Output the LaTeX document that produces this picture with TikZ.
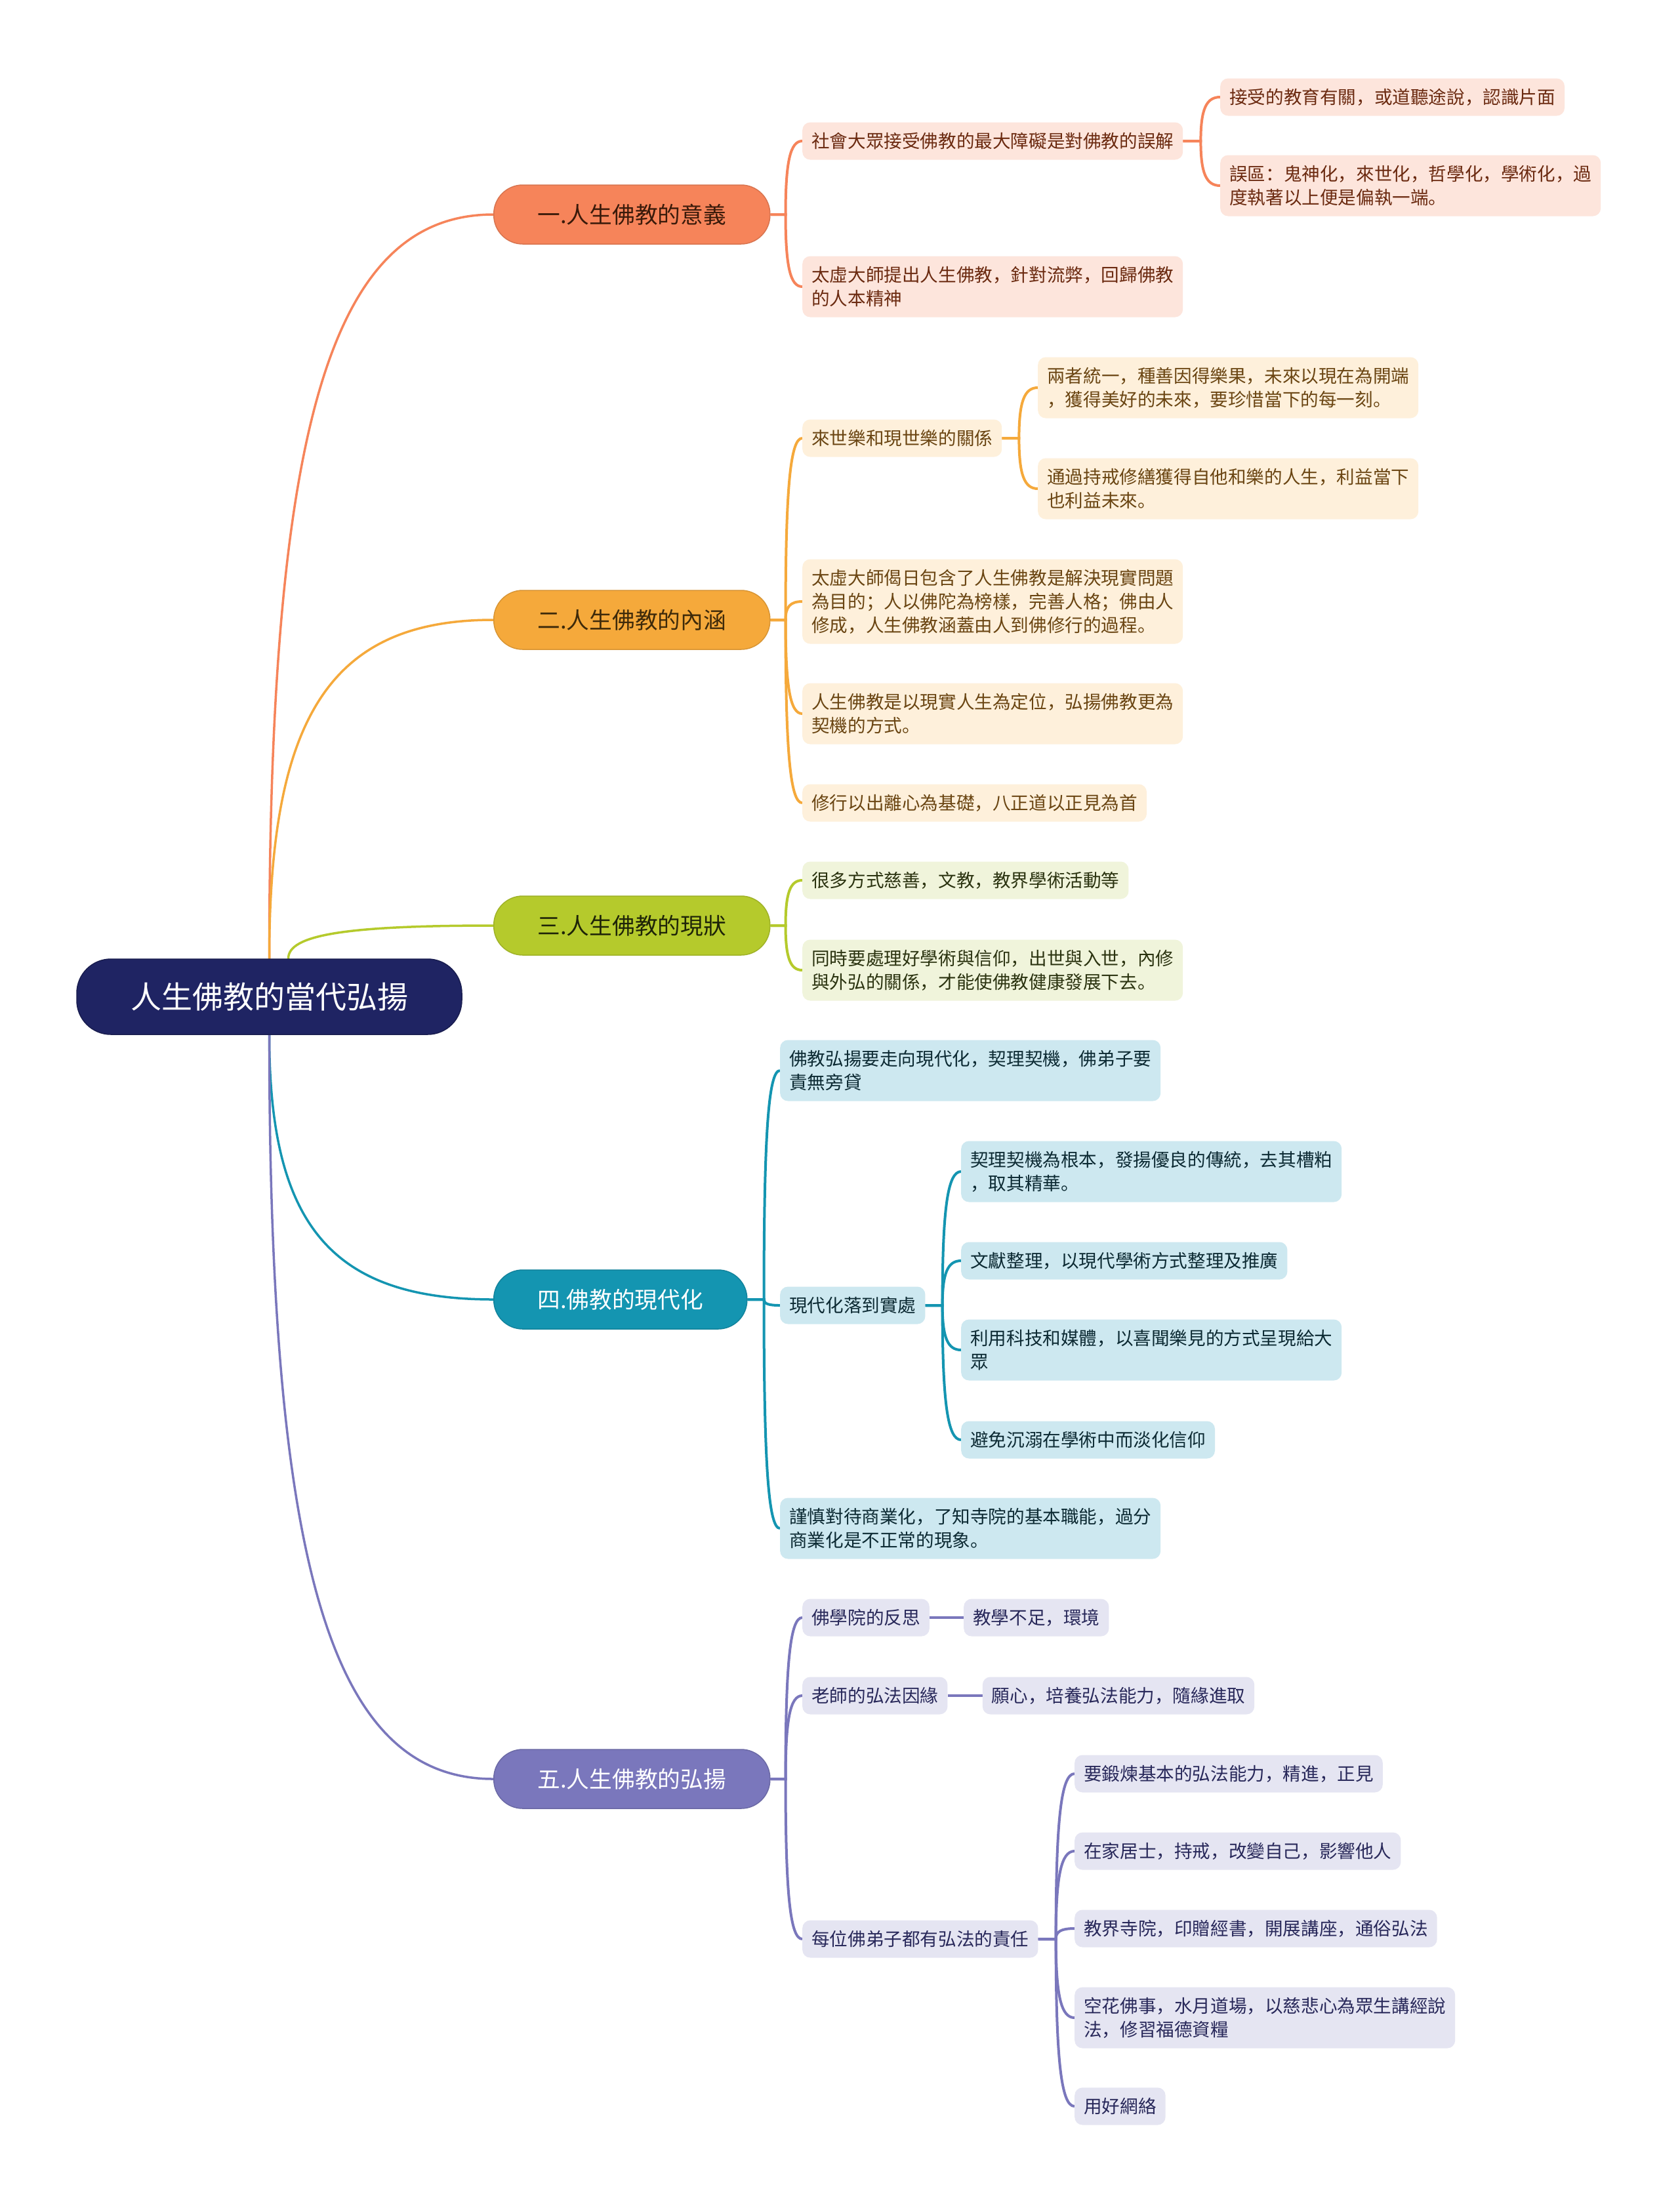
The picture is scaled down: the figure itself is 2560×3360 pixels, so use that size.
\documentclass[tikz,border=0pt]{standalone}
\usepackage{fontspec}
\setmainfont{Noto Sans CJK SC}
\usetikzlibrary{calc}
\pgfdeclarelayer{bg}
\pgfsetlayers{bg,main}
\definecolor{rootc}{HTML}{1F2463}
\definecolor{cA}{HTML}{F6845A}\definecolor{fA}{HTML}{FDE5DC}\definecolor{tA}{HTML}{6B2A10}\definecolor{bA}{HTML}{3A1A0A}
\definecolor{cB}{HTML}{F5A93B}\definecolor{fB}{HTML}{FEF0DB}\definecolor{tB}{HTML}{6A4512}\definecolor{bB}{HTML}{3E2A0A}
\definecolor{cC}{HTML}{B5CA2C}\definecolor{fC}{HTML}{F0F4DB}\definecolor{tC}{HTML}{2B3310}\definecolor{bC}{HTML}{1E2408}
\definecolor{cD}{HTML}{1495B1}\definecolor{fD}{HTML}{CDE8F0}\definecolor{tD}{HTML}{0C2A33}
\definecolor{cE}{HTML}{7A77BC}\definecolor{fE}{HTML}{E5E5F2}\definecolor{tE}{HTML}{28285A}
\newcommand\sst{\rule[-0.12em]{0pt}{1em}}
\newcommand\mmedge[4]{\draw[#1] (#2) -- (#3) let \p1=(#3), \p2=(#4) in .. controls (\x1,{\y1+0.72*(\y2-\y1)}) and ({\x1+0.28*(\x2-\x1)},\y2) .. (#4);}
\tikzset{
  leaf/.style={rounded corners=12pt, inner xsep=14pt, inner ysep=14.7pt, align=left, anchor=west,
    font=\fontsize{27.6pt}{36pt}\selectfont},
  la/.style={leaf, fill=fA, text=tA},
  lb/.style={leaf, fill=fB, text=tB},
  lc/.style={leaf, fill=fC, text=tC},
  ld/.style={leaf, fill=fD, text=tD},
  le/.style={leaf, fill=fE, text=tE},
  branch/.style={rounded corners=44pt, minimum height=90pt, minimum width=421pt, inner xsep=0pt, inner ysep=0pt,
    anchor=west, line width=1.5pt, font=\fontsize{34.7pt}{40pt}\selectfont},
  ra/.style={line width=3.5pt, cA, line cap=round},
  rb/.style={line width=3.5pt, cB, line cap=round},
  rc/.style={line width=3.5pt, cC, line cap=round},
  rd/.style={line width=3.5pt, cD, line cap=round},
  re/.style={line width=3.5pt, cE, line cap=round},
  ea/.style={line width=4pt, cA},
  eb/.style={line width=4pt, cB},
  ec/.style={line width=4pt, cC},
  ed/.style={line width=4pt, cD},
  ee/.style={line width=4pt, cE},
}
\begin{document}
\begin{tikzpicture}[x=1pt,y=-1pt]
\useasboundingbox (0,0) rectangle (2560,3360);
\begin{pgfonlayer}{bg}
\fill[white] (0,0) rectangle (2560,3360);
\end{pgfonlayer}

% root
\node[fill=rootc, draw=rootc!80!black, line width=1.5pt, rounded corners=52pt, minimum width=587pt, minimum height=115pt,
  inner sep=0pt, text=white, font=\fontsize{47pt}{52pt}\selectfont] (root) at (410.5,1519.5) {\sst 人生佛教的當代弘揚};

% branches
\node[branch, fill=cA, draw=cA!88!black, text=bA] (b1) at (752,327) {\sst 一.人生佛教的意義};
\node[branch, fill=cB, draw=cB!88!black, text=bB] (b2) at (752,945) {\sst 二.人生佛教的內涵};
\node[branch, fill=cC, draw=cC!88!black, text=bC] (b3) at (752,1411) {\sst 三.人生佛教的現狀};
\node[branch, fill=cD, draw=cD!88!black, text=white, minimum width=386pt] (b4) at (752,1981) {\sst 四.佛教的現代化};
\node[branch, fill=cE, draw=cE!88!black, text=white] (b5) at (752,2712) {\sst 五.人生佛教的弘揚};

% branch 1
\node[la] (c11) at (1223,215) {\sst 社會大眾接受佛教的最大障礙是對佛教的誤解};
\node[la] (c111) at (1860,148) {\sst 接受的教育有關，或道聽途說，認識片面};
\node[la] (c112) at (1860,283) {\sst 誤區：鬼神化，來世化，哲學化，學術化，過\\\sst 度執著以上便是偏執一端。};
\node[la] (c12) at (1223,437) {\sst 太虛大師提出人生佛教，針對流弊，回歸佛教\\\sst 的人本精神};

% branch 2
\node[lb] (c21) at (1223,668) {\sst 來世樂和現世樂的關係};
\node[lb] (c211) at (1582,591) {\sst 兩者統一，種善因得樂果，未來以現在為開端\\\sst ，獲得美好的未來，要珍惜當下的每一刻。};
\node[lb] (c212) at (1582,745) {\sst 通過持戒修繕獲得自他和樂的人生，利益當下\\\sst 也利益未來。};
\node[lb] (c22) at (1223,917) {\sst 太虛大師偈日包含了人生佛教是解決現實問題\\\sst 為目的；人以佛陀為榜樣，完善人格；佛由人\\\sst 修成，人生佛教涵蓋由人到佛修行的過程。};
\node[lb] (c23) at (1223,1088) {\sst 人生佛教是以現實人生為定位，弘揚佛教更為\\\sst 契機的方式。};
\node[lb] (c24) at (1223,1224) {\sst 修行以出離心為基礎，八正道以正見為首};

% branch 3
\node[lc] (c31) at (1223,1342) {\sst 很多方式慈善，文教，教界學術活動等};
\node[lc] (c32) at (1223,1479) {\sst 同時要處理好學術與信仰，出世與入世，內修\\\sst 與外弘的關係，才能使佛教健康發展下去。};

% branch 4
\node[ld] (c41) at (1189,1632) {\sst 佛教弘揚要走向現代化，契理契機，佛弟子要\\\sst 責無旁貸};
\node[ld] (c42) at (1189,1990) {\sst 現代化落到實處};
\node[ld] (c421) at (1465,1786) {\sst 契理契機為根本，發揚優良的傳統，去其槽粕\\\sst ，取其精華。};
\node[ld] (c422) at (1465,1922) {\sst 文獻整理，以現代學術方式整理及推廣};
\node[ld] (c423) at (1465,2058) {\sst 利用科技和媒體，以喜聞樂見的方式呈現給大\\\sst 眾};
\node[ld] (c424) at (1465,2195) {\sst 避免沉溺在學術中而淡化信仰};
\node[ld] (c43) at (1189,2330) {\sst 謹慎對待商業化，了知寺院的基本職能，過分\\\sst 商業化是不正常的現象。};

% branch 5
\node[le] (c51) at (1223,2466) {\sst 佛學院的反思};
\node[le] (c511) at ([xshift=52pt]c51.east) {\sst 教學不足，環境};
\node[le] (c52) at (1223,2585) {\sst 老師的弘法因緣};
\node[le] (c521) at ([xshift=53pt]c52.east) {\sst 願心，培養弘法能力，隨緣進取};
\node[le] (c53) at (1223,2956) {\sst 每位佛弟子都有弘法的責任};
\node[le] (c531) at (1638,2704) {\sst 要鍛煉基本的弘法能力，精進，正見};
\node[le] (c532) at (1638,2822) {\sst 在家居士，持戒，改變自己，影響他人};
\node[le] (c533) at (1638,2940) {\sst 教界寺院，印贈經書，開展講座，通俗弘法};
\node[le] (c534) at (1638,3076) {\sst 空花佛事，水月道場，以慈悲心為眾生講經說\\\sst 法，修習福德資糧};
\node[le] (c535) at (1638,3211) {\sst 用好網絡};

% fork coordinates
\coordinate (rt) at (root.north);
\coordinate (rtg) at ([xshift=29pt]root.north);
\coordinate (rb) at (root.south);
\coordinate (f1) at ([xshift=23pt]b1.east);
\coordinate (f2) at ([xshift=23pt]b2.east);
\coordinate (f3) at ([xshift=23pt]b3.east);
\coordinate (f4) at ([xshift=25pt]b4.east);
\coordinate (f5) at ([xshift=23pt]b5.east);
\coordinate (f11) at ([xshift=27pt]c11.east);
\coordinate (f21) at ([xshift=26pt]c21.east);
\coordinate (f42) at ([xshift=26pt]c42.east);
\coordinate (f53) at ([xshift=27pt]c53.east);

\begin{pgfonlayer}{bg}
% root to branches
\mmedge{ra}{rt}{rt}{b1.west}
\mmedge{rb}{rt}{rt}{b2.west}
\mmedge{rc}{rtg}{rtg}{b3.west}
\mmedge{rd}{rb}{rb}{b4.west}
\mmedge{re}{rb}{rb}{b5.west}
% branch 1
\mmedge{ea}{b1.east}{f1}{c11.west}
\mmedge{ea}{b1.east}{f1}{c12.west}
\mmedge{ea}{c11.east}{f11}{c111.west}
\mmedge{ea}{c11.east}{f11}{c112.west}
% branch 2
\mmedge{eb}{b2.east}{f2}{c21.west}
\mmedge{eb}{b2.east}{f2}{c22.west}
\mmedge{eb}{b2.east}{f2}{c23.west}
\mmedge{eb}{b2.east}{f2}{c24.west}
\mmedge{eb}{c21.east}{f21}{c211.west}
\mmedge{eb}{c21.east}{f21}{c212.west}
% branch 3
\mmedge{ec}{b3.east}{f3}{c31.west}
\mmedge{ec}{b3.east}{f3}{c32.west}
% branch 4
\mmedge{ed}{b4.east}{f4}{c41.west}
\mmedge{ed}{b4.east}{f4}{c42.west}
\mmedge{ed}{b4.east}{f4}{c43.west}
\mmedge{ed}{c42.east}{f42}{c421.west}
\mmedge{ed}{c42.east}{f42}{c422.west}
\mmedge{ed}{c42.east}{f42}{c423.west}
\mmedge{ed}{c42.east}{f42}{c424.west}
% branch 5
\mmedge{ee}{b5.east}{f5}{c51.west}
\mmedge{ee}{b5.east}{f5}{c52.west}
\mmedge{ee}{b5.east}{f5}{c53.west}
\draw[ee] (c51.east) -- (c511.west);
\draw[ee] (c52.east) -- (c521.west);
\mmedge{ee}{c53.east}{f53}{c531.west}
\mmedge{ee}{c53.east}{f53}{c532.west}
\mmedge{ee}{c53.east}{f53}{c533.west}
\mmedge{ee}{c53.east}{f53}{c534.west}
\mmedge{ee}{c53.east}{f53}{c535.west}
\end{pgfonlayer}
\end{tikzpicture}
\end{document}
